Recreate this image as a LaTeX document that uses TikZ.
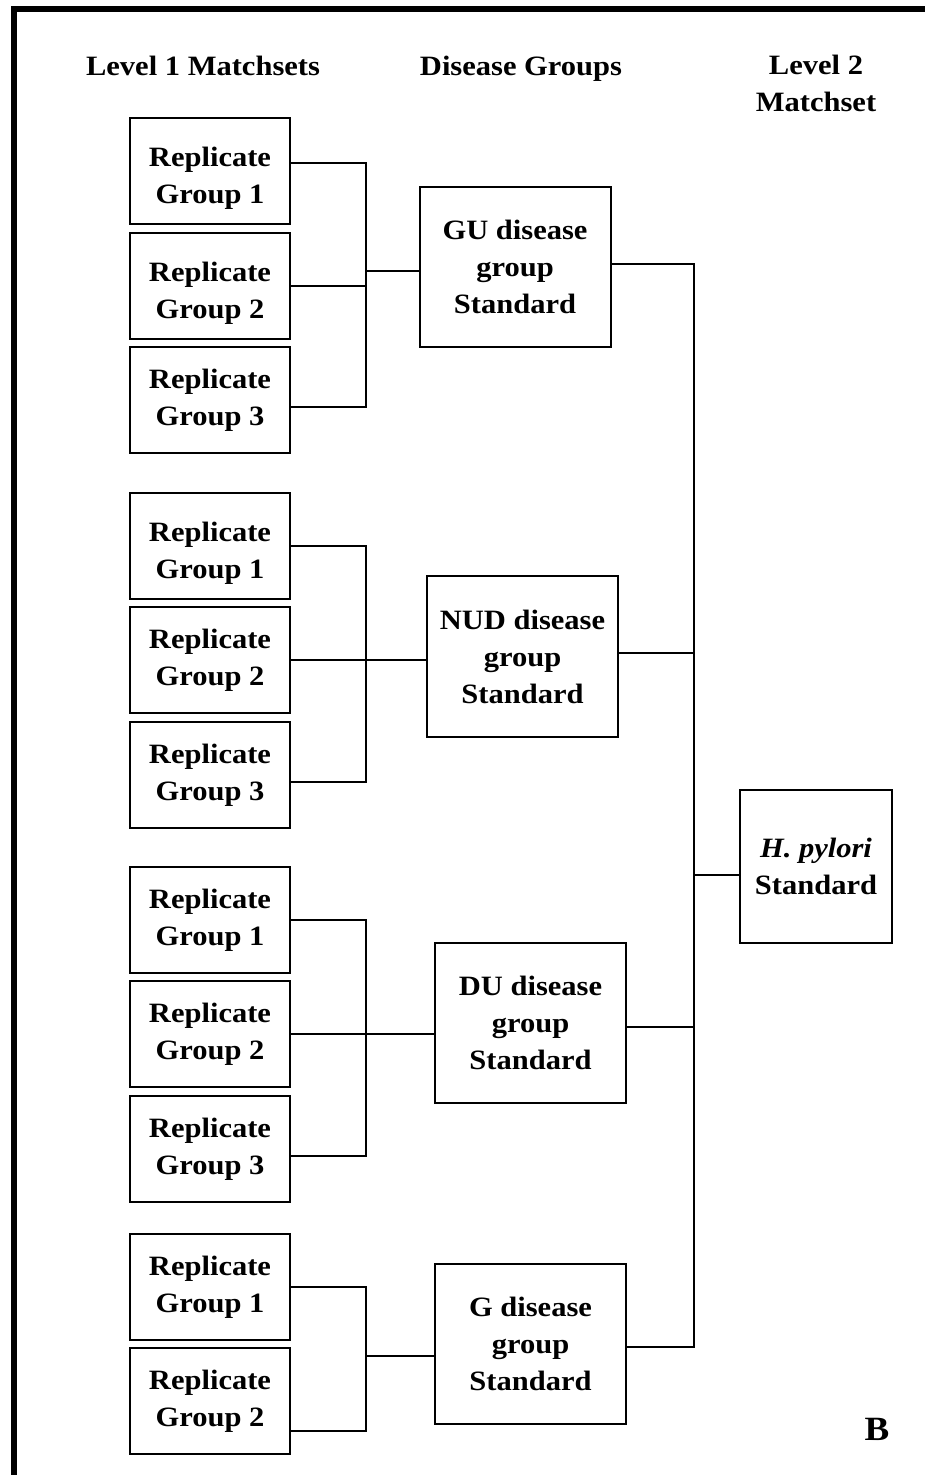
\documentclass[tikz,border=0pt]{standalone}
\usepackage{fontspec}
\setmainfont{Liberation Serif}[FakeStretch=1.09]
\newcommand{\lowstrut}{\rule{0pt}{34pt}}

\begin{document}
\begin{tikzpicture}[x=1pt,y=-1pt,
    box/.style={draw, line width=2pt, align=center, inner sep=0pt,
        font=\bfseries\fontsize{28}{37}\selectfont},
    repbox/.style={box, minimum width=160pt, minimum height=106pt},
    disbox/.style={box, minimum width=191pt, minimum height=160pt},
    head/.style={align=center, inner sep=0pt, font=\bfseries\fontsize{28}{37}\selectfont},
    link/.style={line width=1.6pt}]
    \useasboundingbox (0,0) rectangle (925,1475);
    \draw [line width=6pt] (13.5,1475) -- (13.5,9) -- (925,9);

    \node[head, anchor=base] (h1) at (203,75) {Level 1 Matchsets};
    \node[head, anchor=base] (h2) at (521,75) {Disease Groups};
    \node[head, anchor=base] (h3) at (816,111) {Level 2\\Matchset};

    % GU
    \node[repbox] (gu1) at (210,171) {\lowstrut Replicate\\Group 1};
    \node[repbox] (gu2) at (210,286) {\lowstrut Replicate\\Group 2};
    \node[repbox] (gu3) at (210,400) {Replicate\\Group 3};
    \node[disbox] (gu) at (515,267) {GU disease\\group\\Standard};
    \coordinate (gus) at (366,271);

    % NUD
    \node[repbox] (nud1) at (210,546) {\lowstrut Replicate\\Group 1};
    \node[repbox] (nud2) at (210,660) {Replicate\\Group 2};
    \node[repbox] (nud3) at (210,775) {Replicate\\Group 3};
    \node[disbox, minimum height=161pt] (nud) at (522.5,656.5) {NUD disease\\group\\Standard};
    \coordinate (nuds) at (366,660);

    % DU
    \node[repbox] (du1) at (210,920) {Replicate\\Group 1};
    \node[repbox] (du2) at (210,1034) {Replicate\\Group 2};
    \node[repbox] (du3) at (210,1149) {Replicate\\Group 3};
    \node[disbox] (du) at (530.5,1022.5) {DU disease\\group\\Standard};
    \coordinate (dus) at (366,1034);

    % G
    \node[repbox] (g1) at (210,1287) {Replicate\\Group 1};
    \node[repbox] (g2) at (210,1401) {Replicate\\Group 2};
    \node[disbox] (g) at (530.5,1343.5) {G disease\\group\\Standard};
    \coordinate (gs) at (366,1356);

    \node[box, minimum width=152pt, minimum height=153pt] (hp) at (816,866.5) {{\itshape H. pylori}\\Standard};
    \coordinate (hub) at (694,875);

    \node[font=\bfseries\fontsize{34}{40}\selectfont, anchor=base, inner sep=0pt] (lbl) at (877,1440) {B};

    \draw[link] ([yshift=8pt]gu1.east) -| (gus);
    \draw[link] (gu2.east) -| (gus);
    \draw[link] ([yshift=-7pt]gu3.east) -| (gus);
    \draw[link] (gus) -- ([yshift=-4pt]gu.west);

    \draw[link] (nud1.east) -| (nuds);
    \draw[link] (nud2.east) -| (nuds);
    \draw[link] ([yshift=-7pt]nud3.east) -| (nuds);
    \draw[link] (nuds) -- ([yshift=-3.5pt]nud.west);

    \draw[link] (du1.east) -| (dus);
    \draw[link] (du2.east) -| (dus);
    \draw[link] ([yshift=-7pt]du3.east) -| (dus);
    \draw[link] (dus) -- ([yshift=-11.5pt]du.west);

    \draw[link] (g1.east) -| (gs);
    \draw[link] ([yshift=-30pt]g2.east) -| (gs);
    \draw[link] (gs) -- ([yshift=-12.5pt]g.west);

    \draw[link] ([yshift=3pt]gu.east) -| (hub);
    \draw[link] ([yshift=3.5pt]nud.east) -| (hub);
    \draw[link] ([yshift=-4.5pt]du.east) -| (hub);
    \draw[link] ([yshift=-3.5pt]g.east) -| (hub);
    \draw[link, line width=1.2pt] (hub) -- ([yshift=-8.5pt]hp.west);
\end{tikzpicture}
\end{document}
